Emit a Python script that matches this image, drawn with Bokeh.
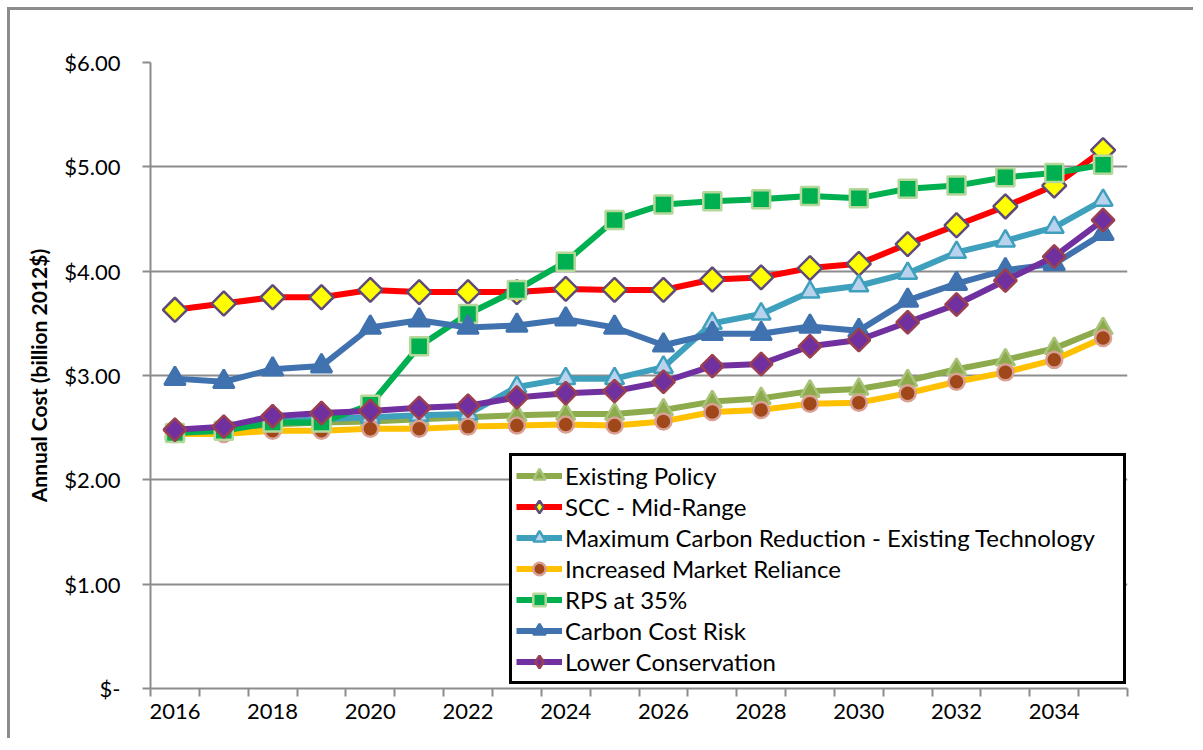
from bokeh.plotting import figure
from bokeh.models import FixedTicker, Legend, LegendItem, Range1d
from bokeh.embed import file_html
from bokeh.resources import INLINE
import math

years = list(range(2016, 2036))
existing_policy = [2.44, 2.47, 2.53, 2.55, 2.56, 2.58, 2.60, 2.62, 2.63, 2.63, 2.67, 2.75, 2.78, 2.85, 2.87, 2.95, 3.06, 3.15, 3.26, 3.45]
scc_mid_range = [3.63, 3.69, 3.75, 3.75, 3.82, 3.80, 3.80, 3.80, 3.83, 3.82, 3.82, 3.92, 3.94, 4.03, 4.07, 4.26, 4.44, 4.62, 4.82, 5.16]
max_carbon_reduction = [2.46, 2.48, 2.56, 2.58, 2.60, 2.62, 2.63, 2.89, 2.97, 2.97, 3.08, 3.50, 3.59, 3.80, 3.86, 3.98, 4.18, 4.29, 4.42, 4.68]
increased_market = [2.44, 2.44, 2.47, 2.47, 2.49, 2.49, 2.51, 2.52, 2.53, 2.52, 2.56, 2.65, 2.67, 2.73, 2.74, 2.83, 2.94, 3.03, 3.15, 3.36]
rps_35 = [2.45, 2.47, 2.55, 2.55, 2.72, 3.28, 3.59, 3.82, 4.09, 4.49, 4.64, 4.67, 4.69, 4.72, 4.70, 4.79, 4.82, 4.90, 4.94, 5.02]
carbon_cost_risk = [2.97, 2.94, 3.06, 3.09, 3.46, 3.53, 3.46, 3.48, 3.54, 3.46, 3.29, 3.40, 3.40, 3.47, 3.43, 3.72, 3.88, 4.01, 4.07, 4.36]
lower_conservation = [2.48, 2.51, 2.61, 2.64, 2.66, 2.69, 2.71, 2.79, 2.83, 2.85, 2.94, 3.09, 3.11, 3.28, 3.34, 3.51, 3.68, 3.91, 4.14, 4.49]

y_ticks = [0, 1, 2, 3, 4, 5, 6]
y_tick_labels = ["$-", "$1.00", "$2.00", "$3.00", "$4.00", "$5.00", "$6.00"]

idx = list(range(len(years)))
FONT = "Lato"

p = figure(frame_width=977, frame_height=626, output_backend="svg", toolbar_location=None,
           min_border_left=140, min_border_top=52, min_border_bottom=50, min_border_right=66,
           x_range=Range1d(-0.5, len(years) - 0.5), y_range=Range1d(0, 6),
           background_fill_color="white", border_fill_color="white")
p.styles = {"border-left": "3px solid #8c8c8c", "border-top": "3px solid #8c8c8c",
            "margin-left": "7px", "margin-top": "7px"}
p.outline_line_color = None

# y axis
p.yaxis.ticker = FixedTicker(ticks=y_ticks)
p.yaxis.major_label_overrides = {t: l for t, l in zip(y_ticks, y_tick_labels)}
p.yaxis.axis_line_color = "#8c8c8c"
p.yaxis.axis_line_width = 2
p.yaxis.major_tick_line_color = "#8c8c8c"
p.yaxis.major_tick_line_width = 2
p.yaxis.major_tick_out = 8
p.yaxis.major_tick_in = 0
p.yaxis.minor_tick_line_color = None
p.yaxis.major_label_text_font = FONT
p.yaxis.major_label_text_font_size = "22px"
p.yaxis.major_label_text_color = "black"
p.yaxis.major_label_standoff = 22
p.yaxis.axis_label = "Annual Cost (billion 2012$)"
p.yaxis.axis_label_text_font = FONT
p.yaxis.axis_label_text_font_style = "bold"
p.yaxis.axis_label_text_font_size = "21px"
p.yaxis.axis_label_text_color = "black"
p.yaxis.axis_label_standoff = 10

# x axis
major_x = list(range(0, len(years), 2))
p.xaxis.ticker = FixedTicker(ticks=major_x, minor_ticks=[i - 0.5 for i in range(len(years) + 1)])
p.xaxis.major_label_overrides = {i: str(years[i]) for i in major_x}
p.xaxis.axis_line_color = "#8c8c8c"
p.xaxis.axis_line_width = 2
p.xaxis.major_tick_line_color = None
p.xaxis.minor_tick_line_color = "#8c8c8c"
p.xaxis.minor_tick_line_width = 2
p.xaxis.minor_tick_out = 8
p.xaxis.minor_tick_in = 0
p.xaxis.major_label_text_font = FONT
p.xaxis.major_label_text_font_size = "22px"
p.xaxis.major_label_text_color = "black"
p.xaxis.major_label_standoff = 7

p.xgrid.grid_line_color = None
p.ygrid.grid_line_color = "#8c8c8c"
p.ygrid.grid_line_width = 2
p.ygrid.ticker = FixedTicker(ticks=y_ticks)

# name, values, line colour, marker, size, fill, border, angle, legend marker, legend size
series = [
    ("Existing Policy", existing_policy, "#8DAA4C", "triangle", 19, "#8DAA4C", "#A9C47A", 0, "triangle", 19),
    ("SCC - Mid-Range", scc_mid_range, "#FF0000", "square", 17, "#FFFF00", "#5F4B7A", math.pi / 4, "diamond", 27),
    ("Maximum Carbon Reduction - Existing Technology", max_carbon_reduction, "#3FA0BD", "triangle", 19, "#B9D3EE", "#3FA0BD", 0, "triangle", 19),
    ("Increased Market Reliance", increased_market, "#FFC000", "circle", 16, "#A0481A", "#D9A095", 0, "circle", 16),
    ("RPS at 35%", rps_35, "#00B050", "square", 18, "#00B050", "#B5D89A", 0, "square", 18),
    ("Carbon Cost Risk", carbon_cost_risk, "#3F72AF", "triangle", 21, "#3F72AF", "#3F72AF", 0, "triangle", 21),
    ("Lower Conservation", lower_conservation, "#7030A0", "square", 16, "#7030A0", "#9B4050", math.pi / 4, "diamond", 26),
]

items = []
for name, vals, lc, marker, size, fc, bc, ang, lmarker, lsize in series:
    r1 = p.line(idx, vals, line_color=lc, line_width=6)
    r2 = p.scatter(idx, vals, marker=marker, size=size, fill_color=fc, line_color=bc,
                   line_width=2.5, angle=ang)
    if ang:
        # off-screen copy used only to draw the legend glyph as a diamond
        r3 = p.scatter([-100], [-100], marker=lmarker, size=lsize, fill_color=fc,
                       line_color=bc, line_width=2.5)
        items.append(LegendItem(label=name, renderers=[r1, r3]))
    else:
        items.append(LegendItem(label=name, renderers=[r1, r2]))

legend = Legend(items=items, location=(359, 4))
legend.border_line_color = "black"
legend.border_line_width = 3
legend.border_line_alpha = 1.0
legend.background_fill_color = "white"
legend.background_fill_alpha = 1
legend.padding = 4
legend.spacing = 0
legend.margin = 0
legend.label_height = 31
legend.glyph_height = 31
legend.glyph_width = 46
legend.label_standoff = 3
legend.label_width = 554
legend.label_text_font = FONT
legend.label_text_font_size = "24px"
legend.label_text_color = "black"
legend.label_text_baseline = "middle"
p.add_layout(legend, "center")

open("out.html", "w").write(file_html(p, INLINE))
